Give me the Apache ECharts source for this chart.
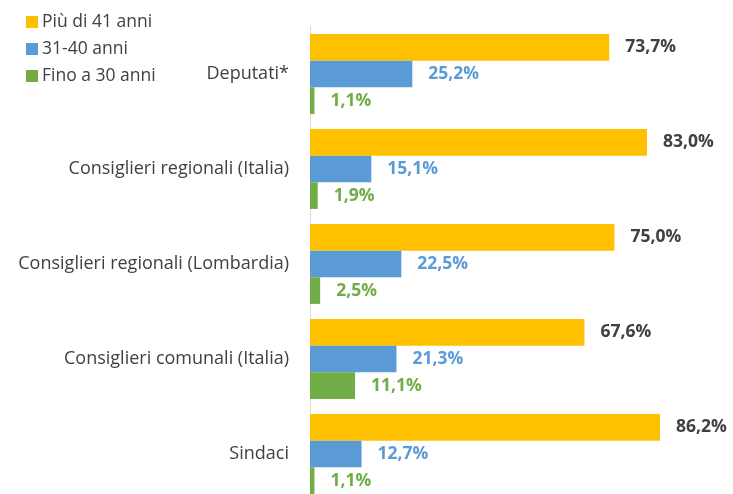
<!DOCTYPE html>
<html>
<head>
<meta charset="utf-8">
<script src="https://cdn.jsdelivr.net/npm/echarts@6/dist/echarts.min.js"></script>
<style>
  html, body { margin: 0; padding: 0; background: #fff; }
  #chart { width: 733px; height: 494px; }
</style>
</head>
<body>
<div id="chart"></div>
<script>
// categories, top to bottom
const categories = [
  'Deputati*',
  'Consiglieri regionali (Italia)',
  'Consiglieri regionali (Lombardia)',
  'Consiglieri comunali (Italia)',
  'Sindaci'
]
const seriesNames = ['Più di 41 anni', '31-40 anni', 'Fino a 30 anni']
const over41 = [73.7, 83.0, 75.0, 67.6, 86.2]
const from31to40 = [25.2, 15.1, 22.5, 21.3, 12.7]
const upTo30 = [1.1, 1.9, 2.5, 11.1, 1.1]

const colors = ['#FFC000', '#5B9BD5', '#70AD47']
const labelColors = ['#404040', '#5B9BD5', '#70AD47']
const font = '"Open Sans", sans-serif'

const chart = echarts.init(document.getElementById('chart'))

function fmt(p) {
  return p.value.toFixed(1).replace('.', ',') + '%'
}

const seriesData = [over41, from31to40, upTo30]

chart.setOption({
  animation: false,
  textStyle: { fontFamily: font },
  legend: {
    orient: 'vertical',
    left: 26,
    top: 13,
    padding: 0,
    icon: 'rect',
    itemWidth: 12,
    itemHeight: 12,
    itemGap: 9,
    textStyle: { fontSize: 17.5, color: '#404040', fontFamily: font, padding: [0, 0, 0, -1] },
    data: seriesNames
  },
  color: colors,
  grid: {
    left: 310,
    top: 26.5,
    width: 406,
    height: 475,
    outerBoundsMode: 'none'
  },
  xAxis: {
    type: 'value',
    min: 0,
    max: 100,
    show: false
  },
  yAxis: {
    type: 'category',
    inverse: true,
    data: categories,
    axisLine: { show: true, lineStyle: { color: '#d9d9d9', width: 1 } },
    axisTick: { show: false },
    axisLabel: { fontSize: 18, color: '#404040', margin: 21, fontFamily: font }
  },
  series: seriesData.map((d, i) => ({
    name: seriesNames[i],
    type: 'bar',
    data: d,
    barGap: 0,
    barCategoryGap: '16%',
    itemStyle: { color: colors[i] },
    label: {
      show: true,
      position: 'right',
      distance: 16,
      formatter: fmt,
      fontSize: 17.5,
      fontWeight: 'bold',
      color: labelColors[i],
      fontFamily: font
    }
  }))
})
</script>
</body>
</html>
